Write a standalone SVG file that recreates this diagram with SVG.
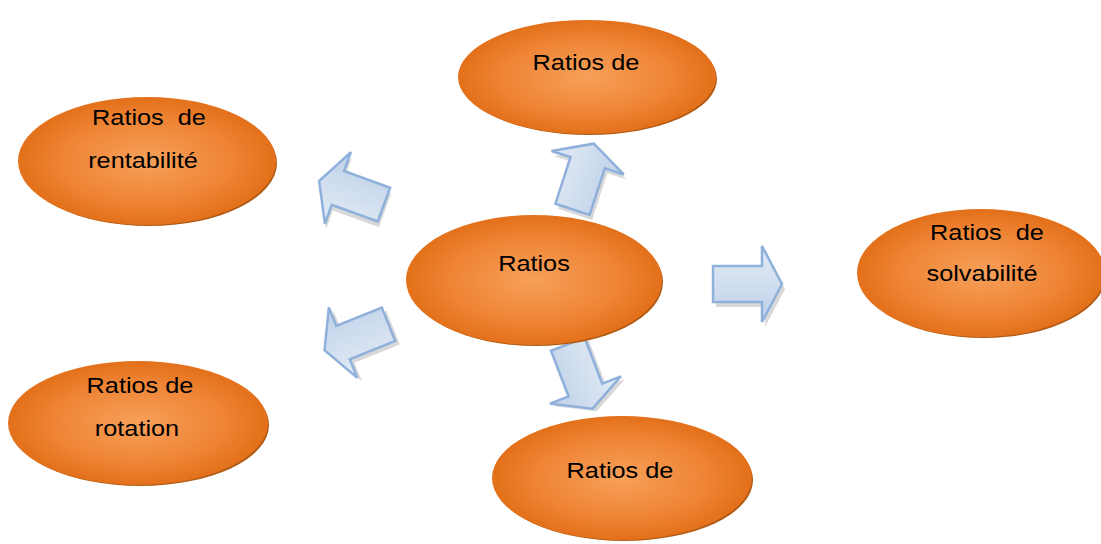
<svg xmlns="http://www.w3.org/2000/svg" width="1101" height="544" viewBox="0 0 1101 544">
<defs>
<radialGradient id="og" cx="50%" cy="50%" r="55%">
<stop offset="0" stop-color="#F7A05A"/>
<stop offset="0.6" stop-color="#EE8434"/>
<stop offset="1" stop-color="#E06A12"/>
</radialGradient>
<linearGradient id="bg" x1="0" y1="0" x2="0" y2="1">
<stop offset="0" stop-color="#E4ECF6"/>
<stop offset="1" stop-color="#BDD0E8"/>
</linearGradient>
<path id="arr" d="M-34,-18 L15,-18 L15,-38 L35,0 L15,38 L15,18 L-34,18 Z"/>
</defs>
<style>
.sh{fill:#B05A14}
.el{fill:url(#og)}
.t{font-family:"Liberation Sans",Arial,sans-serif;font-size:22px;fill:#000;text-anchor:middle;white-space:pre}
.a{fill:url(#bg);stroke:#8EB0DB;stroke-width:2.5;stroke-linejoin:miter}
.as{fill:#C8C8C8;opacity:0.7}
</style>
<rect width="1101" height="544" fill="#fff"/>
<g id="connectors">
<g transform="translate(352,193) rotate(200)"><use href="#arr" class="as" transform="translate(-3,-5)"/><use href="#arr" class="a"/></g>
<g transform="translate(583,177) rotate(-72)"><use href="#arr" class="as" transform="translate(-4,4)"/><use href="#arr" class="a"/></g>
<g transform="translate(747,284)"><use href="#arr" class="as" transform="translate(3,5)"/><use href="#arr" class="a"/></g>
<g transform="translate(357,337) rotate(158)"><use href="#arr" class="as" transform="translate(-3,-5)"/><use href="#arr" class="a"/></g>
<g transform="translate(580,376) rotate(69)"><use href="#arr" class="as" transform="translate(4,-3)"/><use href="#arr" class="a"/></g>
</g>
<g id="n-top">
<ellipse class="sh" cx="589" cy="79" rx="128" ry="56"/>
<ellipse class="el" cx="587" cy="77" rx="129" ry="57"/>
<text class="t" transform="translate(586,70) scale(1.15,1)">Ratios de</text>
</g>
<g id="n-rentabilite">
<ellipse class="sh" cx="149" cy="163" rx="128" ry="63"/>
<ellipse class="el" cx="147" cy="161" rx="129" ry="64"/>
<text class="t" transform="translate(149,125) scale(1.15,1)">Ratios  de</text>
<text class="t" transform="translate(143,168) scale(1.15,1)">rentabilité</text>
</g>
<g id="n-center">
<ellipse class="sh" cx="536" cy="282" rx="127" ry="64"/>
<ellipse class="el" cx="534" cy="280" rx="128" ry="65"/>
<text class="t" transform="translate(534,271) scale(1.15,1)">Ratios</text>
</g>
<g id="n-solvabilite">
<ellipse class="sh" cx="983" cy="275" rx="123" ry="63"/>
<ellipse class="el" cx="981" cy="273" rx="124" ry="64"/>
<text class="t" transform="translate(987,240) scale(1.15,1)">Ratios  de</text>
<text class="t" transform="translate(982,281) scale(1.15,1)">solvabilité</text>
</g>
<g id="n-rotation">
<ellipse class="sh" cx="140" cy="425" rx="129" ry="61"/>
<ellipse class="el" cx="138" cy="423" rx="130" ry="62"/>
<text class="t" transform="translate(140,393) scale(1.15,1)">Ratios de</text>
<text class="t" transform="translate(137,436) scale(1.15,1)">rotation</text>
</g>
<g id="n-bottom">
<ellipse class="sh" cx="624" cy="480" rx="129" ry="61"/>
<ellipse class="el" cx="622" cy="478" rx="130" ry="62"/>
<text class="t" transform="translate(620,478) scale(1.15,1)">Ratios de</text>
</g>
</svg>
